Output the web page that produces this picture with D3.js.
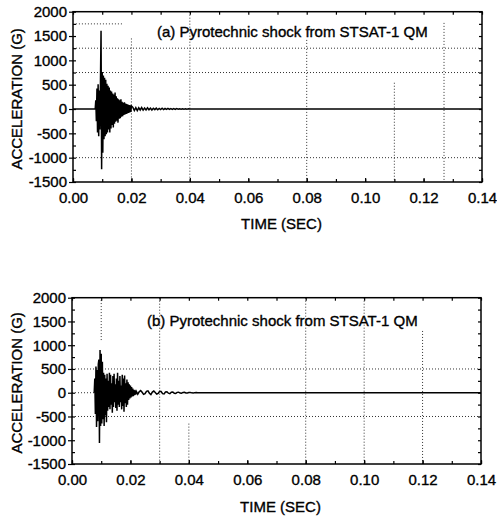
<!DOCTYPE html>
<html>
<head>
<meta charset="utf-8">
<script src="https://cdn.jsdelivr.net/npm/d3@7"></script>
<style>
  html, body { margin: 0; padding: 0; background: #fff; }
  svg { display: block; }
  text { font-family: Arial, "Liberation Sans", Helvetica, sans-serif; fill: #000; }
</style>
</head>
<body>
<svg id="chart" width="497" height="516"></svg>
<script>
// ---------------- data ----------------
const xTicks = [0.00, 0.02, 0.04, 0.06, 0.08, 0.10, 0.12, 0.14];
const xTickLabels = ["0.00", "0.02", "0.04", "0.06", "0.08", "0.10", "0.12", "0.14"];
const yTicks = [-1500, -1000, -500, 0, 500, 1000, 1500, 2000];
const yTickLabels = ["-1500", "-1000", "-500", "0", "500", "1000", "1500", "2000"];
const titles = ["(a) Pyrotechnic shock from STSAT-1 QM", "(b) Pyrotechnic shock from STSAT-1 QM"];
const xLabel = "TIME (SEC)";
const yLabel = "ACCELERATION (G)";

// sampled records: burst sampled every 0.0002 s, tail every 0.0005 s
const burstStart = 0.0076, burstStep = 0.0002;
const burstA = [0, 180, -250, 420, -480, 510, -560, 380, -420, 560,
  1610, -1240, 760, -900, 690, -620, 640, -560, 600, -520,
  520, -480, 480, -420, 440, -480, 380, -400, 360, -330,
  320, -380, 300, -300, 340, -260, 260, -240, 220, -280,
  200, -200, 180, -190, 200, -160, 150, -150, 130, -120,
  140, -110, 110, -100, 100, -90, 90, -80, 80, -70,
  75, -60, 65];
const tailAStart = 0.0205, tailStep = 0.0005;
const tailA = [35, -30, 28, -32, 25, -20, 30, -22, 20, -18,
  24, -15, 18, -20, 15, -12, 18, -15, 12, -10,
  15, -12, 10, -9, 11, -8, 9, -7, 8, -6,
  7, -5, 6, -5, 5, -4, 4, -3, 3, -2, 0];

const burstB = [0, 300, -450, 550, -720, 480, -600, 600, 700, -1060,
  900, -700, 820, -650, 650, -560, 420, -700, 380, -480,
  300, -620, 400, -380, 250, -300, 420, -350, 380, -250,
  200, -420, 350, -300, 400, -200, 180, -320, 300, -380,
  420, -250, 250, -300, 350, -200, 150, -350, 380, -280,
  300, -400, 360, -220, 200, -300, 280, -250, 220, -150,
  180, -120, 150, -100, 120, -80, 90, -70, 60, -50,
  50, -40, 30];
const tailBStart = 0.0225;
const tailB = [-30, 20, 45, 10, -35, -20, 30, 40, -10, -40,
  15, 35, 5, -30, -15, 30, 25, -20, -25, 15,
  20, -10, -20, 10, 15, -10, -15, 8, 12, -8,
  -10, 6, 8, -5, -6, 4, 5, -3, -4, 2,
  3, -2, -2, 1, 0, 0];
const recordEnd = 0.14;

// dotted reference lines
const hGridA = [[1750, 0.001, 0.017], [1250, 0, 0.14], [750, 0, 0.14], [-1000, 0, 0.14]];
const vGridA = [[0.02, 1450, -1500], [0.04, 2000, -1500], [0.08, 1420, -1500], [0.11, 540, -1500], [0.127, 1770, -1500]];
const hGridB = [[500, 0, 0.14], [-500, 0, 0.14], [0, 0, 0.0076]];
const vGridB = [[0.01, 1950, 1100], [0.03, 2000, -1500], [0.04, -650, -1500], [0.08, 2000, -1500], [0.10, 2000, -1500], [0.12, 1300, -1500]];

// ---------------- helpers ----------------
function buildSeries(bStart, bStep, burst, tStart, tStep, tail, withLead) {
  const pts = [];
  if (withLead) pts.push([0, 0]);
  burst.forEach((v, i) => pts.push([bStart + i * bStep, v]));
  tail.forEach((v, i) => pts.push([tStart + i * tStep, v]));
  pts.push([recordEnd, 0]);
  return pts;
}
const seriesA = buildSeries(burstStart, burstStep, burstA, tailAStart, tailStep, tailA, true);
const seriesB = buildSeries(burstStart, burstStep, burstB, tailBStart, tailStep, tailB, false);

const svg = d3.select("#chart");

function darken(sel) {
  sel.attr("stroke", "#000").attr("stroke-width", 0.35).attr("paint-order", "stroke");
}

function drawPanel(p) {
  const x = d3.scaleLinear().domain([0, 0.14]).range([p.x0, p.x1]);
  const y = d3.scaleLinear().domain([-1500, 2000]).range([p.y0, p.y1]);
  const g = svg.append("g");

  // dotted grid
  g.selectAll(".hg").data(p.hGrid).join("line")
    .attr("x1", d => x(d[1])).attr("x2", d => x(d[2]))
    .attr("y1", d => y(d[0])).attr("y2", d => y(d[0]))
    .attr("stroke", "#333").attr("stroke-width", 1).attr("stroke-dasharray", "1,2");
  g.selectAll(".vg").data(p.vGrid).join("line")
    .attr("x1", d => x(d[0])).attr("x2", d => x(d[0]))
    .attr("y1", d => y(d[1])).attr("y2", d => y(d[2]))
    .attr("stroke", "#333").attr("stroke-width", 1).attr("stroke-dasharray", "1,2");

  // trace
  g.append("path").datum(p.series)
    .attr("d", d3.line().x(d => x(d[0])).y(d => y(d[1])))
    .attr("fill", "none").attr("stroke", "#000").attr("stroke-width", 1.5)
    .attr("stroke-linejoin", "miter");

  // axes with ticks
  const minorX = d3.range(0, 0.1401, 0.01);
  const minorY = d3.range(-1500, 2001, 250);
  // bottom
  g.append("g").attr("transform", `translate(0,${p.y0})`)
    .call(d3.axisBottom(x).tickValues(xTicks).tickFormat((d, i) => xTickLabels[i]).tickSizeInner(-4).tickSizeOuter(0).tickPadding(10))
    .call(a => a.select(".domain").remove())
    .call(a => a.selectAll("text").attr("font-size", 15).attr("font-family", "Arial, 'Liberation Sans', sans-serif").call(darken));
  g.append("g").attr("transform", `translate(0,${p.y0})`)
    .call(d3.axisBottom(x).tickValues(minorX).tickSize(-3).tickFormat(""))
    .call(a => a.select(".domain").remove());
  // top
  g.append("g").attr("transform", `translate(0,${p.y1})`)
    .call(d3.axisTop(x).tickValues(minorX).tickSize(-3).tickFormat(""))
    .call(a => a.select(".domain").remove());
  // left
  g.append("g").attr("transform", `translate(${p.x0},0)`)
    .call(d3.axisLeft(y).tickValues(yTicks).tickFormat((d, i) => yTickLabels[i]).tickSizeInner(4).tickSizeOuter(0).tickPadding(2))
    .call(a => a.select(".domain").remove())
    .call(a => a.selectAll("text").attr("font-size", 15).attr("font-family", "Arial, 'Liberation Sans', sans-serif").call(darken));
  g.append("g").attr("transform", `translate(${p.x0},0)`)
    .call(d3.axisLeft(y).tickValues(minorY).tickSize(-3).tickFormat(""))
    .call(a => a.select(".domain").remove());
  // right
  g.append("g").attr("transform", `translate(${p.x1},0)`)
    .call(d3.axisRight(y).tickValues(minorY).tickSize(-3).tickFormat(""))
    .call(a => a.select(".domain").remove());
  g.selectAll(".tick line").attr("stroke", "#000").attr("stroke-width", 1.2);

  // frame
  g.append("rect").attr("x", p.x0).attr("y", p.y1)
    .attr("width", p.x1 - p.x0).attr("height", p.y0 - p.y1)
    .attr("fill", "none").attr("stroke", "#000").attr("stroke-width", 1.5);

  // title inside
  g.append("text").attr("x", p.titleX).attr("y", p.titleY)
    .attr("font-size", 15).text(p.title).call(darken);
  // axis titles
  g.append("text").attr("x", (p.x0 + p.x1) / 2 + 4).attr("y", p.xLabelY)
    .attr("text-anchor", "middle").attr("font-size", 15).text(xLabel).call(darken);
  g.append("text").attr("transform", `translate(${p.yLabelX},${(p.y0 + p.y1) / 2 + 2}) rotate(-90)`)
    .attr("text-anchor", "middle").attr("font-size", 15).text(yLabel).call(darken);
}

drawPanel({ x0: 73, x1: 482, y0: 182, y1: 11.7, series: seriesA, hGrid: hGridA, vGrid: vGridA,
  title: titles[0], titleX: 157, titleY: 37, xLabelY: 228.5, yLabelX: 21.5 });
drawPanel({ x0: 72, x1: 481, y0: 464, y1: 297.7, series: seriesB, hGrid: hGridB, vGrid: vGridB,
  title: titles[1], titleX: 147, titleY: 326, xLabelY: 511.5, yLabelX: 21.5 });
</script>
</body>
</html>
